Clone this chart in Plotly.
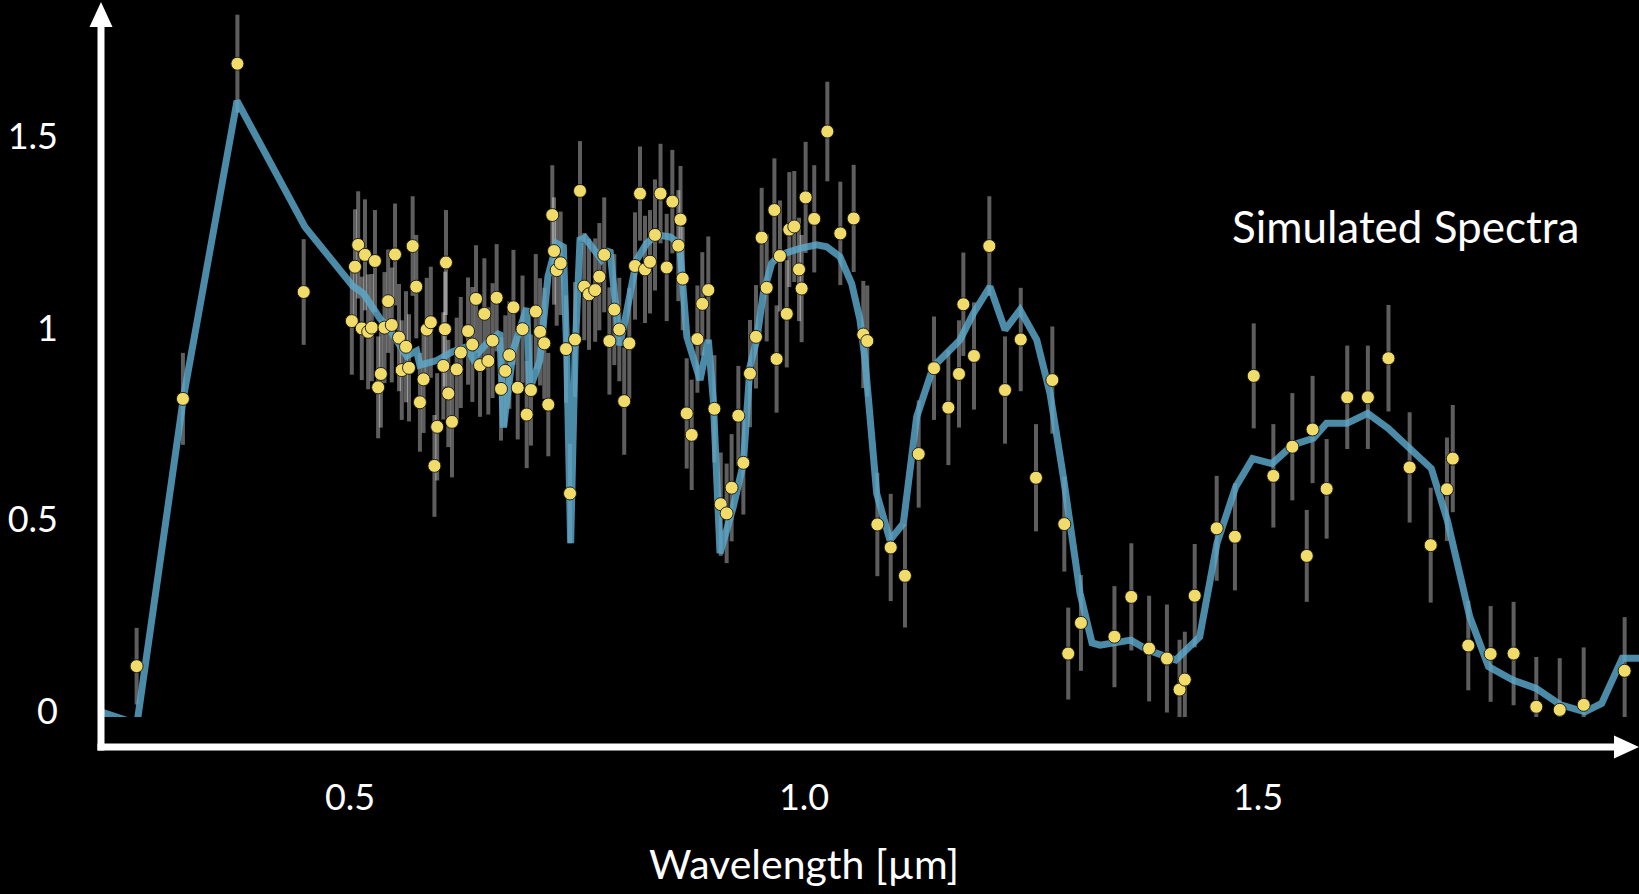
import plotly.graph_objects as go

# ---------------- data ----------------
obs_wavelength = [
    0.265, 0.316, 0.376, 0.449,
    0.502, 0.5055, 0.509, 0.513, 0.5165, 0.520, 0.524, 0.5275, 0.531, 0.534,
    0.538, 0.542, 0.546, 0.5496, 0.554, 0.557, 0.5617, 0.565, 0.569, 0.573,
    0.577, 0.581, 0.5845, 0.589, 0.593, 0.596,
    0.6028, 0.6046, 0.6057, 0.6083, 0.6123, 0.6175, 0.622, 0.630, 0.6347, 0.6388,
    0.6432, 0.648, 0.6523, 0.657, 0.6615, 0.6663, 0.671, 0.6755, 0.680, 0.6847,
    0.690, 0.6946, 0.6993, 0.7046, 0.7093, 0.714, 0.7184,
    0.7228, 0.7247, 0.7276, 0.732, 0.7379, 0.7423, 0.7478, 0.7533, 0.758, 0.7632,
    0.770, 0.7746, 0.780, 0.7857, 0.7911, 0.7966, 0.802, 0.8076, 0.8139, 0.8194,
    0.8249, 0.8304, 0.8359, 0.842,
    0.8488, 0.855, 0.8616, 0.864, 0.8664, 0.8708, 0.8763, 0.8826, 0.888, 0.8946,
    0.9013, 0.9083, 0.9148, 0.9203, 0.9277, 0.9332, 0.9405, 0.9471, 0.9534, 0.9589,
    0.9674, 0.9698, 0.9735, 0.981, 0.9838, 0.9893, 0.9945, 0.9974, 1.0018, 1.0113,
    1.0257, 1.040, 1.0547, 1.0653, 1.0697, 1.0808, 1.0955, 1.1112, 1.1263, 1.1432,
    1.159, 1.1707, 1.1755, 1.1872, 1.2041, 1.2214, 1.2387, 1.2555, 1.2735, 1.2867,
    1.291, 1.305, 1.3419, 1.3605, 1.3801, 1.3997, 1.4136, 1.4194, 1.4303, 1.4545,
    1.4746, 1.4953, 1.5169, 1.5378, 1.5537, 1.5601, 1.5756, 1.5983, 1.6210, 1.6437,
    1.6670, 1.6902, 1.7081, 1.7145, 1.7316, 1.7562, 1.7815, 1.8065, 1.8323, 1.8587,
    1.9038,
]
obs_flux = [
    0.117, 0.815, 1.690, 1.094,
    1.018, 1.160, 1.217, 0.999, 1.191, 0.990, 1.001, 1.175, 0.845, 0.880,
    1.001, 1.070, 1.008, 1.192, 0.975, 0.890, 0.951, 0.896, 1.214, 1.108,
    0.806, 0.866, 0.996, 1.015, 0.640, 0.742,
    0.901, 0.997, 1.171, 0.829, 0.755, 0.892, 0.936, 0.992, 0.957, 1.076,
    0.903, 1.037, 0.914, 0.967, 1.079, 0.841, 0.888, 0.929, 1.054, 0.844,
    0.997, 0.774, 0.838, 1.043, 0.990, 0.960, 0.800,
    1.295, 1.201, 1.151, 1.169, 0.945, 0.568, 0.970, 1.358, 1.108, 1.088,
    1.099, 1.134, 1.191, 0.966, 1.048, 0.996, 0.809, 0.960, 1.162, 1.351,
    1.153, 1.173, 1.243, 1.351,
    1.158, 1.330, 1.215, 1.283, 1.129, 0.777, 0.721, 0.971, 1.063, 1.099,
    0.789, 0.540, 0.516, 0.583, 0.771, 0.648, 0.881, 0.977, 1.236, 1.105,
    1.308, 0.919, 1.188, 1.037, 1.257, 1.265, 1.153, 1.103, 1.341, 1.285,
    1.513, 1.247, 1.286, 0.983, 0.966, 0.487, 0.427, 0.353, 0.671, 0.895,
    0.792, 0.880, 1.062, 0.927, 1.214, 0.838, 0.970, 0.609, 0.864, 0.488,
    0.150, 0.230, 0.194, 0.298, 0.163, 0.137, 0.056, 0.082, 0.301, 0.477,
    0.455, 0.875, 0.614, 0.690, 0.405, 0.735, 0.580, 0.819, 0.819, 0.921,
    0.636, 0.433, 0.579, 0.659, 0.171, 0.149, 0.150, 0.011, 0.003, 0.016,
    0.105,
]
obs_error = [
    0.100, 0.120, 0.128, 0.138,
    0.140, 0.150, 0.140, 0.135, 0.145, 0.150, 0.140, 0.133, 0.133, 0.140,
    0.145, 0.135, 0.150, 0.133, 0.140, 0.130, 0.145, 0.140, 0.130, 0.135,
    0.129, 0.140, 0.135, 0.145, 0.133, 0.140,
    0.140, 0.150, 0.137, 0.140, 0.145, 0.135, 0.145, 0.140, 0.150, 0.140,
    0.135, 0.145, 0.140, 0.150, 0.140, 0.135, 0.145, 0.140, 0.150, 0.135,
    0.140, 0.140, 0.145, 0.150, 0.140, 0.145, 0.135,
    0.130, 0.140, 0.145, 0.135, 0.140, 0.130, 0.150, 0.130, 0.140, 0.145,
    0.135, 0.140, 0.150, 0.140, 0.145, 0.135, 0.140, 0.145, 0.140, 0.123,
    0.140, 0.135, 0.145, 0.130,
    0.140, 0.135, 0.145, 0.140, 0.135, 0.144, 0.144, 0.140, 0.135, 0.140,
    0.140, 0.135, 0.130, 0.140, 0.130, 0.135, 0.140, 0.135, 0.130, 0.140,
    0.135, 0.140, 0.145, 0.140, 0.150, 0.145, 0.135, 0.140, 0.145, 0.140,
    0.130, 0.135, 0.140, 0.140, 0.145, 0.135, 0.140, 0.135, 0.140, 0.135,
    0.150, 0.140, 0.135, 0.140, 0.130, 0.140, 0.135, 0.140, 0.140, 0.124,
    0.120, 0.125, 0.132, 0.140, 0.138, 0.141, 0.130, 0.125, 0.135, 0.137,
    0.140, 0.137, 0.135, 0.140, 0.120, 0.140, 0.130, 0.135, 0.135, 0.139,
    0.144, 0.150, 0.135, 0.140, 0.117, 0.125, 0.135, 0.130, 0.135, 0.150,
    0.140,
]

model_wavelength = [
    0.200, 0.2654, 0.317, 0.3756, 0.4504, 0.478, 0.503, 0.5147, 0.533, 0.544,
    0.555, 0.5624, 0.5734, 0.577, 0.5955, 0.613, 0.6285, 0.6355, 0.6506, 0.665,
    0.669, 0.680, 0.6946, 0.698, 0.709, 0.718, 0.7276, 0.735, 0.7386, 0.743,
    0.748, 0.7533, 0.7588, 0.768, 0.777, 0.7863, 0.797, 0.8029, 0.8157, 0.8267,
    0.8378, 0.8524, 0.863, 0.8664, 0.871, 0.8855, 0.8946, 0.9001, 0.9075, 0.9221,
    0.9332, 0.9405, 0.9479, 0.9552, 0.9644, 0.9736, 0.9956, 1.014, 1.025, 1.0396,
    1.0525, 1.0617, 1.0672, 1.0727, 1.080, 1.0947, 1.1094, 1.1241, 1.1424, 1.1718,
    1.1865, 1.2048, 1.2214, 1.2379, 1.2563, 1.2709, 1.2856, 1.304, 1.3172, 1.326,
    1.360, 1.3786, 1.4095, 1.4358, 1.4548, 1.4754, 1.4940, 1.5156, 1.5383, 1.5610,
    1.5754, 1.5981, 1.6208, 1.6435, 1.6662, 1.6909, 1.7084, 1.7332, 1.7538, 1.7806,
    1.8064, 1.8332, 1.8600, 1.8785, 1.9012, 1.9187, 1.950,
]
model_flux = [
    0.017, -0.033, 0.825, 1.593, 1.264, 1.186, 1.110, 1.090, 1.025, 0.995,
    0.951, 0.927, 0.940, 0.903, 0.915, 0.938, 0.951, 0.920, 0.960, 0.988,
    0.740, 0.945, 1.052, 0.840, 0.915, 1.134, 1.221, 1.212, 0.943, 0.438,
    0.943, 1.230, 1.236, 1.204, 1.178, 1.204, 0.955, 1.021, 1.178, 1.221,
    1.243, 1.238, 1.221, 1.116, 0.977, 0.864, 0.969, 0.812, 0.412, 0.533,
    0.646, 0.899, 0.969, 1.090, 1.169, 1.191, 1.208, 1.217, 1.212, 1.186,
    1.116, 1.021, 0.916, 0.768, 0.568, 0.446, 0.490, 0.768, 0.899, 0.969,
    1.038, 1.108, 0.995, 1.047, 0.969, 0.830, 0.612, 0.308, 0.178, 0.172,
    0.185, 0.159, 0.133, 0.194, 0.438, 0.585, 0.659, 0.646, 0.695, 0.712,
    0.751, 0.751, 0.777, 0.738, 0.690, 0.633, 0.499, 0.246, 0.116, 0.081,
    0.059, 0.016, -0.002, 0.020, 0.138, 0.138, 0.138,
]

x_tick_values = [0.5, 1.0, 1.5]
x_tick_labels = ["0.5", "1.0", "1.5"]
y_tick_values = [0, 0.5, 1, 1.5]
y_tick_labels = ["0", "0.5", "1", "1.5"]

title_text = "Simulated Spectra"
x_title_text = "Wavelength [µm]"

# ---------------- layout geometry ----------------
W, H = 1639, 894
PL, PT, PR, PB = 101, 0, 1639, 717   # plot area in pixels
FONT = "Lato, 'Open Sans', sans-serif"


def px(x):
    return (x - PL) / (PR - PL)


def py(y):
    return (PB - y) / (PB - PT)


fig = go.Figure()

# error bars (drawn first, semi-transparent light grey)
fig.add_trace(go.Scatter(
    x=obs_wavelength, y=obs_flux, mode="markers",
    marker=dict(size=0.1, color="rgba(0,0,0,0)"),
    error_y=dict(type="data", array=obs_error, visible=True,
                 color="rgba(255,255,255,0.37)", thickness=4, width=0),
    hoverinfo="skip", showlegend=False,
))

# model line
fig.add_trace(go.Scatter(
    x=model_wavelength, y=model_flux, mode="lines",
    line=dict(color="rgba(92,170,204,0.82)", width=7),
    showlegend=False,
))

# observations
fig.add_trace(go.Scatter(
    x=obs_wavelength, y=obs_flux, mode="markers",
    marker=dict(size=13, color="#f1dc6a",
                line=dict(color="rgba(20,20,20,0.9)", width=1)),
    showlegend=False,
))

# axis arrows (decoration)
white = "white"
shapes = [
    dict(type="line", xref="paper", yref="paper",
         x0=px(101), y0=py(750.5), x1=px(101), y1=py(24),
         line=dict(color=white, width=7)),
    dict(type="path", xref="paper", yref="paper",
         path=f"M {px(101)},{py(2)} L {px(89.5)},{py(27)} L {px(112.5)},{py(27)} Z",
         fillcolor=white, line=dict(color=white, width=0)),
    dict(type="line", xref="paper", yref="paper",
         x0=px(97.5), y0=py(747), x1=px(1616), y1=py(747),
         line=dict(color=white, width=7)),
    dict(type="path", xref="paper", yref="paper",
         path=f"M {px(1639)},{py(747)} L {px(1614)},{py(735.5)} L {px(1614)},{py(758.5)} Z",
         fillcolor=white, line=dict(color=white, width=0)),
]

annotations = [
    dict(text=title_text, xref="paper", yref="paper",
         x=px(1405), y=py(226), xanchor="center", yanchor="middle",
         showarrow=False, font=dict(family=FONT, size=44, color=white)),
    dict(text=x_title_text, xref="paper", yref="paper",
         x=px(804), y=py(863), xanchor="center", yanchor="middle",
         showarrow=False, font=dict(family=FONT, size=41, color=white)),
]

x_lo = 0.5 + (PL - 350) / 908
x_hi = 0.5 + (PR - 350) / 908
y_hi = (711 - PT) / 383
y_lo = (711 - PB) / 383

fig.update_layout(
    width=W, height=H,
    margin=dict(l=PL, r=W - PR, t=PT, b=H - PB, pad=0),
    paper_bgcolor="black", plot_bgcolor="black",
    showlegend=False,
    shapes=shapes, annotations=annotations,
    font=dict(family=FONT, color=white),
    xaxis=dict(range=[x_lo, x_hi], showgrid=False, zeroline=False, showline=False,
               tickmode="array", tickvals=x_tick_values, ticktext=x_tick_labels,
               ticks="", tickfont=dict(family=FONT, size=36, color=white),
               ticklabelstandoff=56, fixedrange=True),
    yaxis=dict(range=[y_lo, y_hi], showgrid=False, zeroline=False, showline=False,
               tickmode="array", tickvals=y_tick_values, ticktext=y_tick_labels,
               ticks="", tickfont=dict(family=FONT, size=36, color=white),
               ticklabelstandoff=42, fixedrange=True),
)

fig.write_html("out.html")
